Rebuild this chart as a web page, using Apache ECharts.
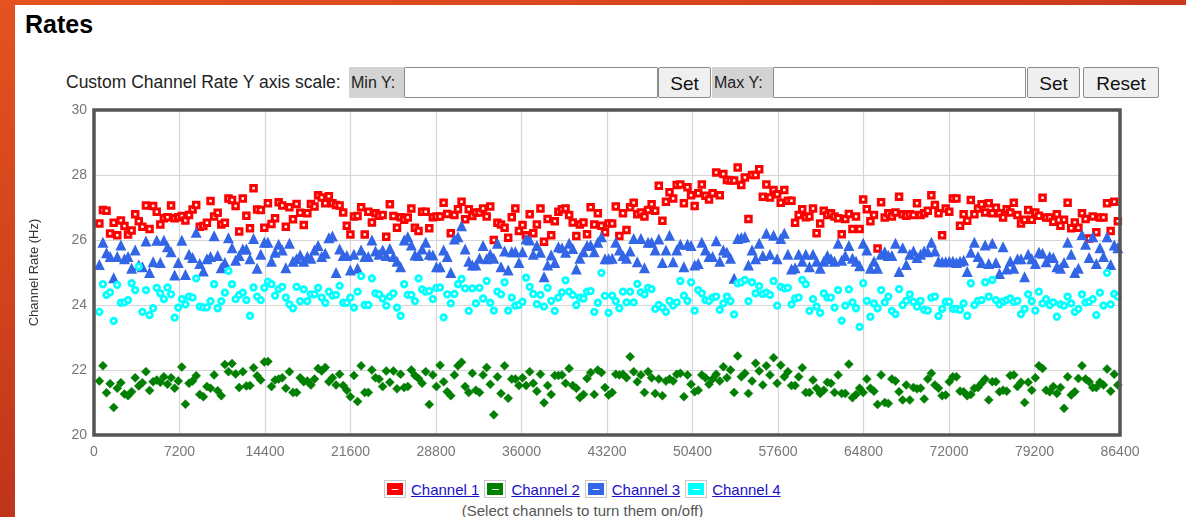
<!DOCTYPE html>
<html>
<head>
<meta charset="utf-8">
<script src="https://cdn.jsdelivr.net/npm/echarts@6/dist/echarts.min.js"></script>
<style>
  html, body { margin: 0; padding: 0; width: 1186px; height: 517px; overflow: hidden; background: #fff; font-family: "Liberation Sans", Arial, sans-serif; }
  .abs { position: absolute; }
  #topbar { left: 0; top: 0; width: 1186px; height: 5px; background: linear-gradient(to right, #e4521f, #d8441d 60%, #c9391c); }
  #leftbar { left: 0; top: 0; width: 15px; height: 517px; background: linear-gradient(to bottom, #e4521f, #d2431d 55%, #bf351b); }
  #title { left: 25px; top: 10px; font-size: 25px; line-height: 29px; font-weight: bold; color: #000; }
  .ctl { top: 67px; height: 31px; line-height: 31px; box-sizing: border-box; }
  #lbl { left: 66px; font-size: 17.5px; color: #222; white-space: nowrap; }
  .gray { background: #d3d3d3; font-size: 16px; color: #222; padding-left: 2px; }
  .inp { background: #fff; border: 1px solid #8a8a8a; border-radius: 1px; }
  .btn { background: #efefef; border: 1px solid #8a8a8a; border-radius: 2px; font-size: 19px; color: #111; text-align: center; }
  #chart { left: 0; top: 100px; width: 1186px; height: 372px; }
  #legend { left: 384px; top: 479px; height: 20px; display: flex; align-items: center; font-size: 15px; white-space: nowrap; }
  .sw { width: 22px; height: 18px; border: 1px solid #c8c8c8; box-sizing: border-box; padding: 2px; margin-right: 5px; }
  .sw div { width: 100%; height: 100%; color: #fff; font-size: 12px; line-height: 12px; text-align: center; }
  .lk { color: #1a0dcc; text-decoration: underline; margin-right: 5px; }
  #hint { left: 0; width: 1165px; top: 502px; text-align: center; font-size: 15px; color: #555; }
</style>
</head>
<body>
<div id="topbar" class="abs"></div>
<div id="leftbar" class="abs"></div>
<div id="title" class="abs">Rates</div>
<div id="lbl" class="abs ctl">Custom Channel Rate Y axis scale:</div>
<div class="abs ctl gray" style="left:349px;width:55px;">Min Y:</div>
<div class="abs ctl inp" style="left:404px;width:254px;"></div>
<div class="abs ctl btn" style="left:658px;width:53px;">Set</div>
<div class="abs ctl gray" style="left:712px;width:61px;">Max Y:</div>
<div class="abs ctl inp" style="left:773px;width:253px;"></div>
<div class="abs ctl btn" style="left:1027px;width:53px;">Set</div>
<div class="abs ctl btn" style="left:1083px;width:76px;">Reset</div>
<div id="chart" class="abs"></div>
<div id="legend" class="abs"></div>
<div id="hint" class="abs">(Select channels to turn them on/off)</div>
<script>
// ---- data ----
const seriesNames = ["Channel 1", "Channel 2", "Channel 3", "Channel 4"];
const seriesColors = ["#ff0000", "#008000", "#3366e6", "#00ffff"];
const xTicks = [0, 7200, 14400, 21600, 28800, 36000, 43200, 50400, 57600, 64800, 72000, 79200, 86400];
const yTicks = [20, 22, 24, 26, 28, 30];
const axisTitle = "Channel Rate (Hz)";
const START = 450;   // seconds, first sample
const STEP = 302;    // seconds between samples

const ch1 = [
26.51,26.92,26.9,26.2,26.53,26.15,26.6,26.43,26.17,26.29,26.79,26.58,26.41,27.06,26.34,27.05,26.87,26.48,26.67,26.7,27.06,26.67,26.7,26.74,26.6,26.77,26.94,27.08,26.41,26.43,26.53,27.2,26.72,26.84,26.48,26.53,27.28,27.23,27.05,26.26,27.28,26.75,26.36,27.59,26.94,26.92,26.38,
27.13,26.49,26.67,27.16,27.06,26.41,27.01,26.64,27.11,26.84,26.46,26.82,27.11,27.03,27.38,27.31,27.13,27.35,27.13,27.08,27.06,26.85,26.44,26.17,26.72,26.74,27.01,26.17,26.87,26.54,26.82,26.75,26.77,26.1,27.1,26.74,26.38,26.7,26.62,26.69,26.97,26.38,26.28,26.87,26.87,26.36,26.7,26.72,
26.72,27.15,26.8,26.21,26.77,26.95,27.18,26.64,26.95,26.74,26.85,26.85,26.97,26.72,27.03,26.0,26.53,26.48,26.38,26.07,26.7,26.97,26.28,26.46,26.15,26.79,26.21,26.48,26.97,25.95,26.65,26.15,26.58,26.87,26.95,26.97,26.77,26.54,26.12,26.48,26.54,26.18,27.01,26.48,26.82,26.44,26.24,26.51,
26.51,27.03,26.12,26.82,26.31,27.01,27.15,26.79,26.85,26.72,26.92,27.1,26.9,27.67,26.59,27.18,27.47,27.28,27.69,27.71,27.13,27.62,27.38,27.05,27.44,27.71,27.36,27.25,27.44,28.08,27.38,28.03,27.85,27.83,27.83,28.23,27.69,27.92,26.65,28.0,28.0,28.18,27.33,27.71,27.31,27.54,27.41,27.15,
27.54,27.21,27.21,26.53,26.77,26.95,26.7,26.72,26.97,26.21,26.51,26.9,26.77,26.82,26.72,26.67,26.18,26.65,26.8,26.34,26.72,26.34,27.25,26.95,26.58,26.77,25.74,27.16,26.69,26.82,26.72,26.85,27.33,26.79,26.75,26.79,26.77,27.13,26.77,26.82,26.9,27.38,27.08,26.82,26.15,26.97,26.87,27.28,
27.28,26.44,26.79,26.59,27.23,26.79,26.97,27.1,26.85,27.13,26.82,26.99,26.82,26.69,26.95,26.85,27.15,26.77,26.51,26.62,26.92,26.62,26.85,26.75,27.3,26.69,26.69,26.56,26.79,26.44,26.62,27.15,26.36,26.54,26.38,26.82,26.65,26.05,26.72,26.24,26.69,26.69,27.13,26.28,27.18,26.58
];
const ch2 = [
21.66,22.13,21.3,21.58,20.85,21.44,21.61,21.26,21.21,21.33,21.76,21.51,21.61,21.95,21.37,21.64,21.69,21.62,21.79,21.56,21.76,21.44,21.66,22.09,20.95,21.59,21.66,21.82,21.25,21.18,21.49,21.44,21.85,21.36,21.21,22.17,21.95,22.2,21.88,21.46,21.95,21.51,21.52,22.07,21.82,21.69,22.25,
22.26,21.49,21.69,21.72,21.76,21.44,21.95,21.31,21.31,21.76,21.64,21.66,21.54,21.72,22.05,21.97,22.08,21.64,21.76,21.54,21.87,21.52,21.38,21.18,21.83,21.03,22.13,21.31,21.31,22.0,21.76,21.72,21.49,21.97,21.62,21.97,21.42,21.87,21.46,21.49,22.0,21.83,21.74,21.59,21.95,20.94,21.85,21.49,
22.15,21.64,21.33,21.21,21.85,22.13,22.24,21.49,21.31,21.9,21.38,21.31,21.85,22.08,21.56,20.62,21.79,21.28,22.13,21.13,21.72,21.72,21.52,21.76,21.52,21.95,21.59,21.35,21.87,20.99,21.52,21.25,21.83,21.83,21.85,21.59,22.05,21.52,21.44,21.15,21.25,21.74,21.92,21.25,22.0,21.92,21.46,21.23,
21.31,21.87,21.85,21.87,21.76,22.41,21.95,21.64,21.85,21.31,21.95,21.76,21.28,21.72,21.21,21.66,21.72,21.66,21.87,21.9,21.18,21.85,21.56,21.33,21.38,21.85,21.76,21.56,21.72,21.87,21.66,22.1,21.76,22.0,21.31,22.43,21.79,21.9,21.28,21.66,22.21,21.97,21.54,22.13,21.85,22.38,21.59,22.15,
21.79,21.95,21.52,21.52,21.79,22.07,21.31,21.31,21.69,21.44,21.28,21.38,21.62,21.59,21.31,21.85,21.28,21.28,22.18,21.15,21.25,21.44,21.31,21.72,21.44,21.35,20.94,21.85,21.0,20.97,21.72,21.66,21.33,21.08,21.54,21.08,21.46,21.42,21.44,21.11,21.72,21.9,21.54,21.44,21.21,21.23,21.64,21.79,
21.79,21.35,21.33,21.21,21.25,21.44,21.46,21.59,21.72,21.08,21.64,21.64,21.33,21.38,21.35,21.83,21.85,21.49,21.62,21.0,21.62,21.38,21.76,22.13,22.05,21.38,21.33,21.49,21.28,21.46,20.82,21.79,21.23,21.33,21.74,22.13,21.72,21.64,21.46,21.46,21.62,21.54,22.03,21.35,21.87,21.54
];
const ch3 = [
25.25,25.93,25.61,25.49,24.84,25.49,25.85,25.42,25.49,25.13,25.69,25.23,25.18,25.97,25.0,25.33,25.99,25.31,25.99,25.79,25.64,24.92,25.31,25.99,24.94,25.56,25.46,26.24,25.28,25.05,25.42,25.49,26.13,25.52,25.15,25.31,26.07,25.76,25.38,25.52,25.72,25.72,25.42,26.05,25.13,25.56,25.93,
25.93,25.35,25.62,25.87,25.69,25.15,25.9,25.35,25.42,25.54,25.35,25.49,25.44,25.69,25.83,25.49,25.59,26.07,26.12,25.0,25.72,25.52,25.52,25.08,25.56,25.13,25.69,25.49,25.49,26.0,25.66,25.56,25.69,25.52,25.74,25.49,25.35,25.18,26.0,26.1,25.85,25.54,25.52,25.72,25.93,25.56,25.54,25.18,
25.18,25.69,25.49,25.0,26.03,26.1,26.44,25.72,25.35,25.23,25.23,25.44,25.83,25.42,25.56,25.44,25.9,25.18,25.66,25.08,25.64,25.64,25.31,25.64,26.03,26.0,25.56,25.83,25.62,24.87,25.23,25.54,25.31,25.79,25.76,25.62,25.9,25.74,25.11,25.44,25.64,25.83,25.85,25.64,25.93,26.1,25.42,25.42,
25.44,25.93,25.69,25.52,25.44,25.66,26.05,25.33,26.05,25.15,25.93,25.93,25.69,26.03,25.31,25.69,26.15,25.33,25.69,25.87,25.18,25.87,25.83,25.23,25.28,25.93,25.69,25.49,25.49,25.98,25.35,25.69,25.62,25.44,24.82,26.05,26.08,26.1,25.23,25.69,25.42,25.9,25.52,26.21,25.56,26.15,25.42,26.05,
26.21,25.56,25.11,25.15,25.56,25.35,25.56,25.18,25.56,25.35,25.13,25.35,25.52,25.42,25.35,25.9,25.38,25.52,25.83,25.44,25.35,25.21,25.9,25.69,25.13,25.35,25.13,25.56,25.64,25.52,25.52,25.9,25.03,25.76,25.25,25.56,25.66,25.46,25.56,25.66,25.64,25.93,25.66,25.35,25.33,25.33,25.35,25.35,
25.31,25.35,25.38,25.03,25.62,25.93,25.49,25.31,25.85,25.28,25.9,25.31,24.97,25.79,25.11,25.35,25.13,25.42,25.42,24.87,25.56,25.42,25.28,25.62,25.59,25.33,25.49,25.46,25.18,25.13,25.31,25.93,25.56,25.0,25.13,26.17,25.87,25.46,26.1,25.28,25.76,25.49,26.1,25.25,25.85,25.76
];
const ch4 = [
23.79,24.64,24.31,24.39,23.51,24.62,24.07,24.08,24.15,24.67,24.46,25.18,23.79,24.46,23.69,23.9,24.53,24.36,24.18,24.54,24.33,23.61,23.92,24.18,24.02,24.26,24.23,24.82,23.95,23.93,23.93,24.12,24.64,23.9,24.12,24.38,25.05,24.64,24.18,24.31,24.38,24.15,23.67,24.54,24.26,24.15,24.53,
24.72,24.64,24.29,24.49,24.56,24.23,24.02,23.9,24.56,24.12,24.48,24.12,24.33,24.33,24.53,24.23,24.07,24.41,24.29,24.31,24.59,24.07,24.07,24.23,23.92,24.41,24.89,24.0,24.0,24.82,24.36,24.33,24.2,23.98,24.26,24.36,23.92,23.67,24.64,24.31,24.31,24.12,24.82,24.48,24.41,24.43,24.18,24.53,
24.54,23.62,24.33,24.05,24.34,24.64,24.8,24.51,23.82,24.51,24.05,24.53,24.2,24.74,24.07,23.83,24.41,24.33,24.7,23.83,24.23,23.98,24.0,24.1,24.84,24.56,24.34,24.03,24.31,23.95,24.53,24.13,23.82,24.23,24.39,24.76,24.41,24.31,24.0,24.23,24.2,24.41,24.43,23.79,24.07,24.99,24.28,23.76,
24.29,24.12,23.9,24.41,24.08,24.41,24.08,24.65,24.39,24.33,24.53,24.49,23.88,24.0,23.92,23.79,24.13,23.98,24.08,24.74,24.29,24.13,24.7,23.83,24.46,24.36,24.15,24.13,24.23,24.26,23.85,24.05,24.26,24.12,23.71,24.67,24.7,24.77,24.12,24.7,24.36,24.58,24.34,24.38,24.31,24.74,23.98,24.56,
24.51,24.53,24.02,24.2,24.23,24.77,24.64,23.82,24.18,23.95,23.76,24.36,24.23,24.23,23.92,24.46,23.52,23.98,24.48,24.08,23.9,23.33,24.67,24.13,23.64,24.05,23.9,24.46,24.08,24.26,23.82,23.72,24.49,24.0,24.13,24.33,24.1,23.95,24.13,23.85,23.83,24.23,24.26,23.66,23.88,24.1,24.1,23.88,
23.88,23.85,24.05,23.67,24.67,24.0,24.13,24.15,24.7,24.26,24.77,24.15,24.02,24.1,24.15,24.2,24.1,24.13,23.72,23.88,24.33,24.12,23.83,24.41,24.05,24.18,24.0,24.08,23.64,24.02,23.98,24.26,24.05,23.79,23.88,24.33,24.08,24.1,24.18,23.69,24.38,23.98,24.99,24.02,24.34,24.26
];
const channels = [ch1, ch2, ch3, ch4];

// ---- legend (html, like the original page) ----
const legend = document.getElementById('legend');
seriesNames.forEach((n, i) => {
  const sw = document.createElement('div'); sw.className = 'sw';
  const inner = document.createElement('div'); inner.style.background = seriesColors[i]; inner.textContent = '\u2013';
  sw.appendChild(inner);
  const a = document.createElement('span'); a.className = 'lk'; a.textContent = n;
  legend.appendChild(sw); legend.appendChild(a);
});

// ---- chart ----
const symbolCfg = [
  { symbol: 'rect', size: 5.5, itemStyle: { color: '#ffffff', borderColor: seriesColors[0], borderWidth: 3, opacity: 1 } },
  { symbol: 'diamond', size: 9, itemStyle: { color: seriesColors[1], borderColor: '#0a7a0a', borderWidth: 0.5, opacity: 1 } },
  { symbol: 'triangle', size: 11, itemStyle: { color: seriesColors[2], opacity: 1 } },
  { symbol: 'circle', size: 5.5, itemStyle: { color: '#ffffff', borderColor: seriesColors[3], borderWidth: 2.8, opacity: 1 } }
];
const chart = echarts.init(document.getElementById('chart'), null, { renderer: 'canvas' });
chart.setOption({
  animation: false,
  backgroundColor: 'transparent',
  grid: { left: 94, right: 66, top: 10, bottom: 37, show: true, borderColor: '#555', borderWidth: 3.5, backgroundColor: 'transparent', z: 3 },
  xAxis: {
    type: 'value', min: xTicks[0], max: xTicks[xTicks.length - 1], interval: 7200,
    axisLine: { show: false }, axisTick: { show: false },
    axisLabel: { color: '#777', fontSize: 14, margin: 10, fontFamily: 'Liberation Sans, Arial', formatter: v => String(v) },
    splitLine: { show: true, showMinLine: false, showMaxLine: false, lineStyle: { color: '#d6d6d6', width: 1.2 } }
  },
  yAxis: {
    type: 'value', min: yTicks[0], max: yTicks[yTicks.length - 1], interval: 2,
    name: axisTitle, nameLocation: 'middle', nameGap: 53,
    nameTextStyle: { color: '#333', fontSize: 13, fontFamily: 'Liberation Sans, Arial' },
    axisLine: { show: false }, axisTick: { show: false },
    axisLabel: { color: '#777', fontSize: 14, margin: 7, fontFamily: 'Liberation Sans, Arial', formatter: v => String(v) },
    splitLine: { show: true, showMinLine: false, showMaxLine: false, lineStyle: { color: '#d6d6d6', width: 1.2 } }
  },
  series: channels.map((vals, i) => ({
    name: seriesNames[i], type: 'scatter',
    symbol: symbolCfg[i].symbol, symbolSize: symbolCfg[i].size,
    itemStyle: symbolCfg[i].itemStyle,
    data: vals.map((v, k) => [START + k * STEP, v])
  }))
});
</script>
</body>
</html>
